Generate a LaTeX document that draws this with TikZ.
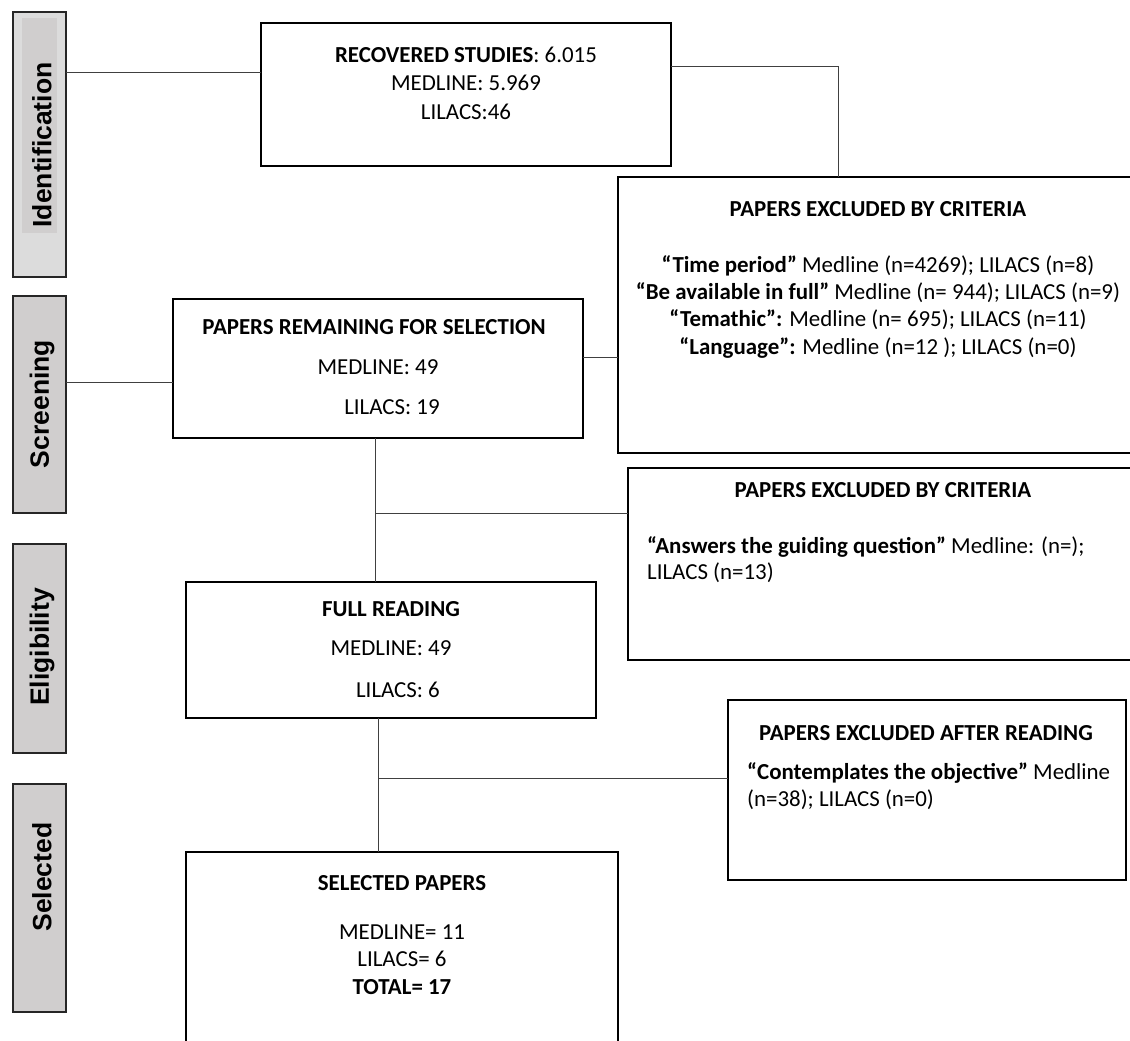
\documentclass[tikz,border=0pt]{standalone}
\usepackage{fontspec}
\setmainfont{Carlito}
\newfontfamily\arialfont{Liberation Sans}
\definecolor{labelgrey}{RGB}{208,206,206}
\definecolor{labelgreyb}{RGB}{220,220,220}
\begin{document}
\begin{tikzpicture}[x=1pt,y=-1pt,
  box/.style={draw=black, line width=1.3pt, inner sep=0pt, outer sep=0pt},
  phase/.style={draw=black!85, line width=1.3pt, fill=labelgrey, inner sep=0pt, outer sep=0pt},
  conn/.style={draw=black!75, line width=1pt},
  txt/.style={inner sep=0pt, font=\fontsize{22.9}{27}\selectfont},
  ptxt/.style={inner sep=0pt, rotate=90, font=\arialfont\bfseries\fontsize{26.5}{30}\selectfont}
]
\useasboundingbox (0,0) rectangle (1130,1041);
\fill[white] (0,0) rectangle (1130,1041);

% phase labels
\node[phase, fill=labelgreyb, minimum width=53, minimum height=265, anchor=north west] (id) at (13,12) {};
\fill[labelgrey] (22,18) rectangle (57,233);
\node[phase, minimum width=53, minimum height=217, anchor=north west] (scr) at (13,296) {};
\node[phase, minimum width=53, minimum height=209, anchor=north west] (eli) at (13,544) {};
\node[phase, minimum width=53, minimum height=228, anchor=north west] (selp) at (13,784) {};
\node[ptxt] (idt) at (42,145) {Identification};
\node[ptxt] (scrt) at (42,404) {Screening};
\node[ptxt] (elit) at (42,647) {Eligibility};
\node[ptxt] (selpt) at (42,877) {Selected};

% main boxes
\node[box, minimum width=410, minimum height=143, anchor=north west] (rec) at (261,23) {};
\node[box, minimum width=518, minimum height=276, anchor=north west] (ex1) at (618,177) {};
\node[box, minimum width=410, minimum height=139, anchor=north west] (rem) at (173,299) {};
\node[box, minimum width=508, minimum height=192, anchor=north west] (ex2) at (628,468) {};
\node[box, minimum width=410, minimum height=136, anchor=north west] (full) at (186,582) {};
\node[box, minimum width=398, minimum height=180, anchor=north west] (ex3) at (728,700) {};
\node[box, minimum width=432, minimum height=196, anchor=north west] (sel) at (186,852) {};

% connectors
\draw[conn] (id.east |- 0,73) -- (rec.west |- 0,73);
\draw[conn] (rec.east |- 0,67) -| (ex1.north -| 838,0);
\draw[conn] (scr.east |- 0,382) -- (rem.west |- 0,382);
\draw[conn] (rem.east |- 0,357) -- (ex1.west |- 0,357);
\draw[conn] (rem.south -| 375,0) -- (full.north -| 375,0);
\coordinate (j1) at (375,513);
\draw[conn] (j1) -- (ex2.west |- j1);
\draw[conn] (full.south -| 378,0) -- (sel.north -| 378,0);
\coordinate (j2) at (378,778);
\draw[conn] (j2) -- (ex3.west |- j2);

% texts: recovered
\node[txt] (rec1) at (466,55) {\textbf{RECOVERED STUDIES}: 6.015};
\node[txt] (rec2) at (466,83) {MEDLINE: 5.969};
\node[txt] (rec3) at (466,112) {LILACS:46};

% excluded 1
\node[txt] (ex1t) at (878,209) {\textbf{PAPERS EXCLUDED BY CRITERIA}};
\node[txt] (ex1a) at (878,266) {\textbf{“Time period”} Medline (n=4269); LILACS (n=8)};
\node[txt] (ex1b) at (878,293) {\textbf{“Be available in full”} Medline (n= 944); LILACS (n=9)};
\node[txt] (ex1c) at (878,320) {\textbf{“Temathic”:} Medline (n= 695); LILACS (n=11)};
\node[txt] (ex1d) at (878,348) {\textbf{“Language”:} Medline (n=12 ); LILACS (n=0)};

% remaining
\node[txt] (rem1) at (374,327) {\textbf{PAPERS REMAINING FOR SELECTION}};
\node[txt] (rem2) at (378,367) {MEDLINE: 49};
\node[txt] (rem3) at (392,407) {LILACS: 19};

% excluded 2
\node[txt] (ex2t) at (883,490) {\textbf{PAPERS EXCLUDED BY CRITERIA}};
\node[txt, anchor=west] (ex2a) at (647,547) {\textbf{“Answers the guiding question”} Medline: (n=);};
\node[txt, anchor=west] (ex2b) at (647,573) {LILACS (n=13)};

% full reading
\node[txt] (full1) at (391,609) {\textbf{FULL READING}};
\node[txt] (full2) at (391,648) {MEDLINE: 49};
\node[txt] (full3) at (398,690) {LILACS: 6};

% excluded 3
\node[txt] (ex3t) at (926,733) {\textbf{PAPERS EXCLUDED AFTER READING}};
\node[txt, anchor=west] (ex3a) at (747,773) {\textbf{“Contemplates the objective”} Medline};
\node[txt, anchor=west] (ex3b) at (747,800) {(n=38); LILACS (n=0)};

% selected
\node[txt] (sel1) at (402,883) {\textbf{SELECTED PAPERS}};
\node[txt] (sel2) at (402,932) {MEDLINE= 11};
\node[txt] (sel3) at (402,959) {LILACS= 6};
\node[txt] (sel4) at (402,987) {\textbf{TOTAL= 17}};
\end{tikzpicture}
\end{document}
